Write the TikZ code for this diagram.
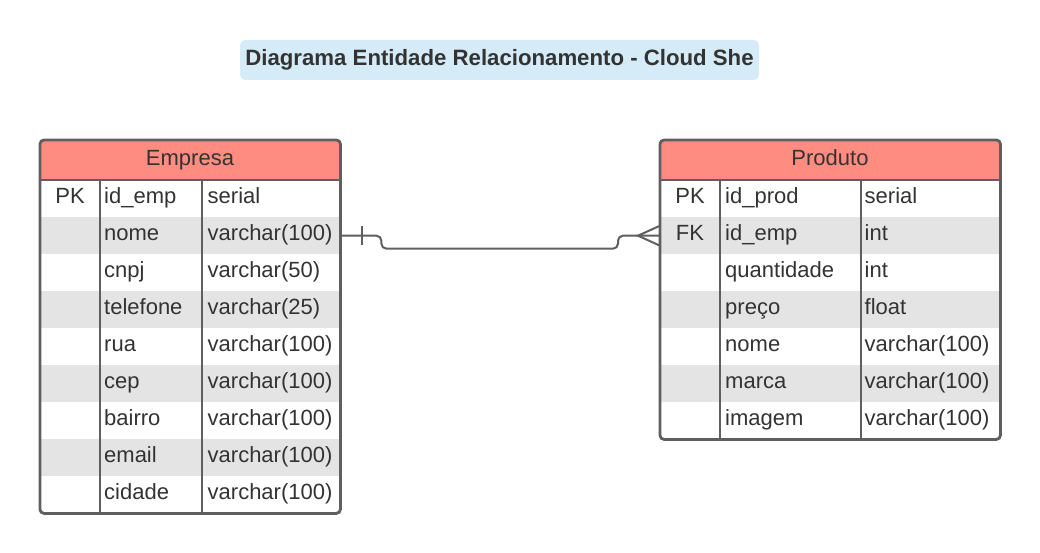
\documentclass[tikz,border=0pt]{standalone}
\usepackage{fontspec}
\setmainfont{Liberation Sans}
\usetikzlibrary{calc}
\definecolor{lineC}{HTML}{5F5F5F}
\definecolor{txtC}{HTML}{333333}
\definecolor{hdrC}{HTML}{FF8C80}
\definecolor{stripeC}{HTML}{E4E4E4}
\definecolor{titleC}{HTML}{D5ECF8}
\tikzset{
  tline/.style={draw=lineC, line width=2.8pt},
  conn/.style={draw=lineC, line width=2pt},
  txt/.style={text=txtC, font=\fontsize{22}{26}\selectfont, inner sep=0pt},
  rowbox/.style={anchor=north west, minimum height=37pt, inner sep=0pt, draw=none},
  framebox/.style={anchor=north west, inner sep=0pt, fill=white},
  titlebox/.style={fill=titleC, rounded corners=5pt, minimum width=519pt, minimum height=40pt,
    inner sep=0pt, text height=16pt, text depth=5pt, text=txtC,
    font=\bfseries\fontsize{22.2}{26}\selectfont},
}
\begin{document}
\begin{tikzpicture}[x=1pt,y=-1pt]
\useasboundingbox (0,0) rectangle (1040,553);

% title
\node[titlebox] (title) at (499.5,60) {Diagrama Entidade Relacionamento - Cloud She};

% ---------- Empresa ----------
\node[framebox, minimum width=300pt, minimum height=373pt] (emp) at (40,140) {};
\begin{scope}
  \clip[rounded corners=4pt] (emp.north west) rectangle (emp.south east);
  \fill[hdrC] (40,140) rectangle (340,180);
  \foreach \i/\f in {1/white,2/stripeC,3/white,4/stripeC,5/white,6/stripeC,7/white,8/stripeC,9/white}{
    \node[rowbox, fill=\f, minimum width=300pt] (e-\i) at (40,{180+37*(\i-1)}) {};
  }
\end{scope}
\node[txt, anchor=base] (emp-h) at (190,165.5) {Empresa};
\foreach \i/\k/\n/\t in {1/PK/id\_emp/serial, 2//nome/varchar(100), 3//cnpj/varchar(50),
    4//telefone/varchar(25), 5//rua/varchar(100), 6//cep/varchar(100), 7//bairro/varchar(100),
    8//email/varchar(100), 9//cidade/varchar(100)}{
  \node[txt, anchor=base] (e-\i-k) at ($(e-\i.west)+(30,4.5)$) {\k};
  \node[txt, anchor=base west] (e-\i-n) at ($(e-\i.west)+(64,4.5)$) {\n};
  \node[txt, anchor=base west] (e-\i-t) at ($(e-\i.west)+(167.5,4.5)$) {\t};
}
\draw[tline] (e-1.north west) -- (e-1.north east);
\draw[tline] (100,180) -- (100,513);
\draw[tline] (202,180) -- (202,513);
\draw[tline, rounded corners=4pt] (emp.north west) rectangle (emp.south east);

% ---------- Produto ----------
\node[framebox, minimum width=340pt, minimum height=299pt] (prod) at (660,140) {};
\begin{scope}
  \clip[rounded corners=4pt] (prod.north west) rectangle (prod.south east);
  \fill[hdrC] (660,140) rectangle (1000,180);
  \foreach \i/\f in {1/white,2/stripeC,3/white,4/stripeC,5/white,6/stripeC,7/white}{
    \node[rowbox, fill=\f, minimum width=340pt] (p-\i) at (660,{180+37*(\i-1)}) {};
  }
\end{scope}
\node[txt, anchor=base] (prod-h) at (830,165.5) {Produto};
\foreach \i/\k/\n/\t in {1/PK/id\_prod/serial, 2/FK/id\_emp/int, 3//quantidade/int,
    4//preço/float, 5//nome/varchar(100), 6//marca/varchar(100), 7//imagem/varchar(100)}{
  \node[txt, anchor=base] (p-\i-k) at ($(p-\i.west)+(30,4.5)$) {\k};
  \node[txt, anchor=base west] (p-\i-n) at ($(p-\i.west)+(65,4.5)$) {\n};
  \node[txt, anchor=base west] (p-\i-t) at ($(p-\i.west)+(204.5,4.5)$) {\t};
}
\draw[tline] (p-1.north west) -- (p-1.north east);
\draw[tline] (720,180) -- (720,439);
\draw[tline] (861,180) -- (861,439);
\draw[tline, rounded corners=4pt] (prod.north west) rectangle (prod.south east);

% ---------- relationship ----------
\draw[conn, rounded corners=5pt] (e-2.east) -- ++(41,0) -- ++(0,13)
  -- ($(p-2.west)+(-42,13)$) -- ++(0,-13) -- (p-2.west);
\draw[conn] ($(e-2.east)+(22,-9.5)$) -- ($(e-2.east)+(22,9.5)$);
\draw[conn] ($(p-2.west)+(0,-10)$) -- ($(p-2.west)+(-22,0)$) -- ($(p-2.west)+(0,10)$);
\end{tikzpicture}
\end{document}
